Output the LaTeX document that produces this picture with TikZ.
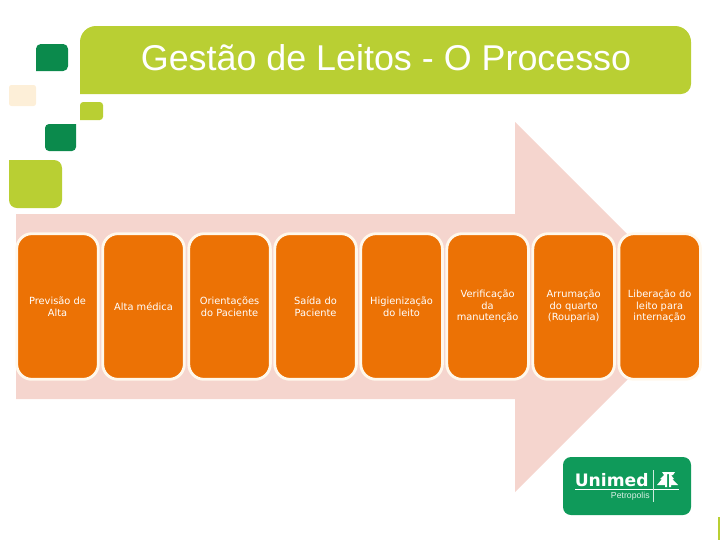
\documentclass[tikz,border=0pt]{standalone}
\usepackage{fontspec}
\setmainfont{DejaVu Sans}
\newfontfamily\titlefont{Liberation Sans}
\usepackage{xcolor}
\usetikzlibrary{positioning, calc}
\definecolor{limegreen}{HTML}{B9CF33}
\definecolor{darkgreen}{HTML}{0B8A4C}
\definecolor{logogreen}{HTML}{0F9A5A}
\definecolor{creamy}{HTML}{FDEFD8}
\definecolor{arrowpink}{HTML}{F5D5CE}
\definecolor{boxorange}{HTML}{EC7205}
\definecolor{boxedge}{HTML}{FFF8EC}
\begin{document}
\begin{tikzpicture}[x=0.025cm, y=-0.025cm, every node/.style={font=\fontsize{7}{8.2}\selectfont}]
      \tikzstyle{stepbox}=[rectangle, rounded corners=0.38cm, draw=boxedge, line width=2pt, fill=boxorange, text=white, align=center, outer sep=0pt, inner sep=0pt, minimum width=2.04cm, minimum height=3.64cm]
      \useasboundingbox (0,0) rectangle (720,540);
      % squares and title band
      \fill[darkgreen] (36,71) [rounded corners=0.12cm] -- (36,44) -- (68,44) -- (68,71) [sharp corners] -- cycle;
      \fill[creamy, rounded corners=0.06cm] (9,85) rectangle (36,106);
      \fill[limegreen] (80,120) [rounded corners=0.08cm] -- (80,102) -- (103,102) -- (103,120) [sharp corners] -- cycle;
      \fill[darkgreen] (76,124) [rounded corners=0.1cm] -- (76,151) -- (45,151) -- (45,124) [sharp corners] -- cycle;
      \fill[limegreen] (9,160) [rounded corners=0.2cm] -- (62,160) -- (62,208) -- (9,208) [sharp corners] -- cycle;
      \fill[limegreen] (80,94) [rounded corners=0.4cm] -- (80,26) -- (691,26) [rounded corners=0.25cm] -- (691,94) [sharp corners] -- cycle;
      \node[font=\titlefont\fontsize{25.5}{30}\selectfont, text=white] (title) at (386,58) {Gestão de Leitos - O Processo};
      % big arrow
      \fill[arrowpink] (16,214) -- (515,214) -- (515,122) -- (700,307) -- (515,492) -- (515,399) -- (16,399) -- cycle;
      % process steps
      \node[stepbox] (previsao) at (57.5,306.5) {Previsão de\\Alta};
      \node[stepbox, right=0.11cm of previsao] (alta) {Alta médica};
      \node[stepbox, right=0.11cm of alta] (orient) {Orientações\\do Paciente};
      \node[stepbox, right=0.11cm of orient] (saida) {Saída do\\Paciente};
      \node[stepbox, right=0.11cm of saida] (higien) {Higienização\\do leito};
      \node[stepbox, right=0.11cm of higien] (verif) {Verificação\\da\\manutenção};
      \node[stepbox, right=0.11cm of verif] (arrum) {Arrumação\\do quarto\\(Rouparia)};
      \node[stepbox, right=0.11cm of arrum] (liber) {Liberação do\\leito para\\internação};
      % logo
      \fill[logogreen, rounded corners=0.2cm] (563,457) rectangle (691,515);
      \node[font=\bfseries\fontsize{12.2}{14}\selectfont, text=white, inner sep=0pt, anchor=west] (unimed) at (574.5,480) {Unimed};
      \node[font=\titlefont\fontsize{6.2}{7}\selectfont, text=white!85!logogreen, inner sep=0pt, anchor=east] (petro) at (650,496) {Petropolis};
      \draw[white, line width=0.6pt] (575,489) -- (679,489);
      \draw[white!80!logogreen, line width=0.3pt] (653,470) -- (653,502);
      \fill[white] (662,472) -- (675,472) -- (673,475) -- (671,475) -- (674,479) -- (672,479) -- (678,485) -- (671,485) -- (671,487) -- (669,487) -- (669,474) -- (667,474) -- (667,487) -- (665,487) -- (665,485) -- (657,485) -- (662,479) -- (660,479) -- (664,475) -- cycle;
      \fill[limegreen] (717.5,517) rectangle (720,540);
    \end{tikzpicture}
\end{document}
